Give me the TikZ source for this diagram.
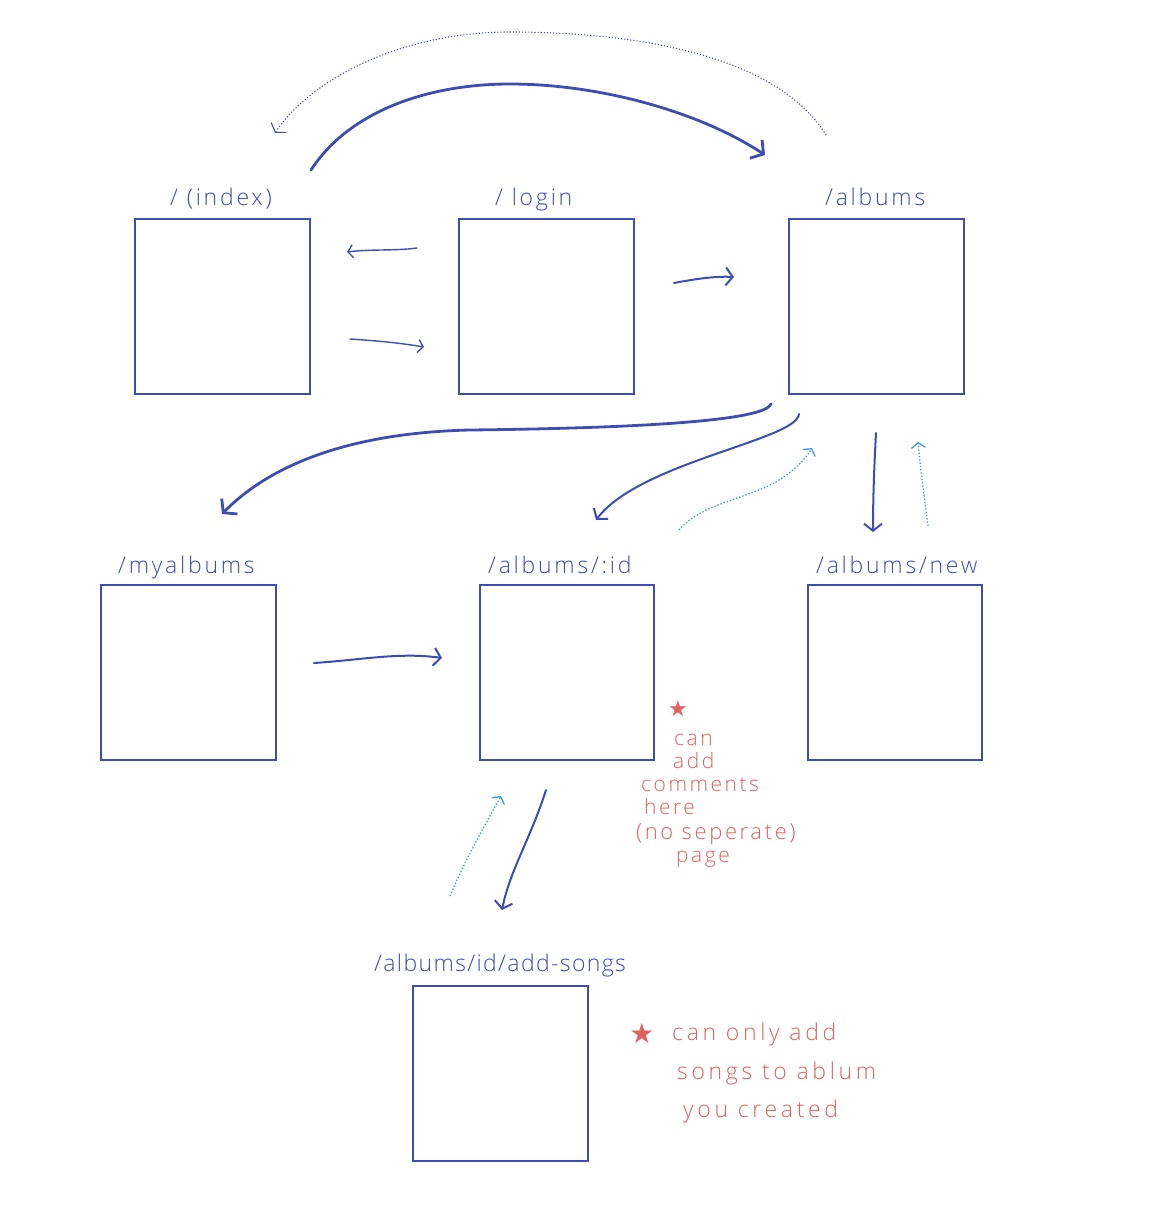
\documentclass[tikz,border=0pt]{standalone}
\usepackage{fontspec}
\setmainfont{Open Sans}
\newfontfamily\hand[LetterSpace=6]{Open Sans Light}
\newfontfamily\handwide[LetterSpace=12]{Open Sans Light}
\newfontfamily\handwider[LetterSpace=16]{Open Sans Light}
\usetikzlibrary{arrows.meta}
\definecolor{ink}{HTML}{3F4DB3}
\definecolor{lightink}{HTML}{3A9AD9}
\definecolor{redink}{HTML}{E06262}
\tikzset{
  page/.style={draw=ink, line width=1.5pt},
  lbl/.style={anchor=base west, text=ink, font=\handwide\fontsize{23}{23}\selectfont, inner sep=0pt},
  note/.style={text=redink, font=\handwide\fontsize{21}{23}\selectfont, inner sep=0pt, align=left},
  bignote/.style={text=redink, font=\handwider\fontsize{23}{23}\selectfont, inner sep=0pt, align=left},
  thick arrow/.style={draw=ink, line width=2.8pt, line cap=round, -{Straight Barb[length=9pt,width=22pt,line width=2.8pt]}},
  med arrow/.style={draw=ink, line width=2pt, line cap=round, -{Straight Barb[length=7pt,width=18pt,line width=2pt]}},
  thin arrow/.style={draw=ink, line width=1.4pt, line cap=round, -{Straight Barb[length=5pt,width=13pt,line width=1.4pt]}},
  dot arrow/.style={draw=ink, line width=1.1pt, dotted, -{Straight Barb[length=6pt,width=18pt,line width=1.1pt]}},
  ldot arrow/.style={draw=lightink, line width=1.3pt, dotted, -{Straight Barb[length=5pt,width=14pt,line width=1.3pt]}},
}
\begin{document}
\begin{tikzpicture}[x=1pt,y=-1pt]
\useasboundingbox[fill=white] (0,0) rectangle (1170,1210);

% pages
\draw[page] (135,219) rectangle (310,394);
\draw[page] (459,219) rectangle (634,394);
\draw[page] (789,219) rectangle (964,394);
\draw[page] (101,585) rectangle (276,760);
\draw[page] (480,585) rectangle (654,760);
\draw[page] (808,585) rectangle (982,760);
\draw[page] (413,986) rectangle (588,1161);

% labels
\node[lbl] (lindex) at (170,205) {/ (index)};
\node[lbl] (llogin) at (495,205) {/ login};
\node[lbl] (lalbums) at (825,205) {/albums};
\node[lbl] (lmy) at (118,573) {/myalbums};
\node[lbl] (lid) at (488,573) {/albums/:id};
\node[lbl] (lnew) at (816,573) {/albums/new};
\node[lbl, font=\hand\fontsize{23}{23}\selectfont] (ladd) at (374,971) {/albums/id/add-songs};

% connector end points
\coordinate (a1s) at (311,170);
\coordinate (a1e) at (765,155);
\coordinate (d1s) at (826,135);
\coordinate (d1e) at (275,133);
\coordinate (li1s) at (417,248);
\coordinate (li1e) at (347,252);
\coordinate (il1s) at (350,339);
\coordinate (il1e) at (424,347);
\coordinate (la1s) at (674,283);
\coordinate (la1e) at (734,277);
\coordinate (am1s) at (771,404);
\coordinate (am1e) at (222,514);
\coordinate (ai1s) at (799,414);
\coordinate (ai1e) at (596,520);
\coordinate (ia1s) at (679,530);
\coordinate (ia1e) at (812,448);
\coordinate (an1s) at (876,433);
\coordinate (an1e) at (873,532);
\coordinate (na1s) at (928,526);
\coordinate (na1e) at (918,442);
\coordinate (mi1s) at (314,663);
\coordinate (mi1e) at (442,658);
\coordinate (is1s) at (546,790);
\coordinate (is1e) at (502,910);
\coordinate (si1s) at (450,896);
\coordinate (si1e) at (501,796);

% connectors
\draw[thick arrow] (a1s) .. controls (350,110) and (430,84) .. (510,84)
   .. controls (600,84) and (700,112) .. (a1e);
\draw[dot arrow] (d1s) .. controls (780,60) and (650,32) .. (510,32)
   .. controls (400,32) and (310,80) .. (d1e);
\draw[thin arrow] (li1s) .. controls (395,251) and (370,249) .. (li1e);
\draw[thin arrow] (il1s) .. controls (380,341) and (400,343) .. (il1e);
\draw[med arrow] (la1s) .. controls (695,279) and (715,276) .. (la1e);
\draw[thick arrow] (am1s) .. controls (765,420) and (650,428) .. (470,430)
   .. controls (340,433) and (265,470) .. (am1e);
\draw[med arrow] (ai1s) .. controls (797,440) and (640,462) .. (ai1e);
\draw[ldot arrow] (ia1s) .. controls (700,505) and (740,500) .. (770,485)
   .. controls (790,475) and (805,460) .. (ia1e);
\draw[med arrow] (an1s) .. controls (874,470) and (873,500) .. (an1e);
\draw[ldot arrow] (na1s) .. controls (924,495) and (920,465) .. (na1e);
\draw[med arrow] (mi1s) .. controls (360,660) and (400,652) .. (mi1e);
\draw[med arrow] (is1s) .. controls (530,840) and (510,870) .. (is1e);
\draw[ldot arrow] (si1s) .. controls (465,860) and (485,825) .. (si1e);

% notes
\node[note, anchor=center] (star1) at (678,709) {\fontspec{DejaVu Sans}\fontsize{22}{22}\selectfont ★};
\node[note, anchor=base west] (n1a) at (674,745) {can};
\node[note, anchor=base west] (n1b) at (673,768) {add};
\node[note, anchor=base west] (n1c) at (641,791) {comments};
\node[note, anchor=base west] (n1d) at (644,814) {here};
\node[note, anchor=base west, font=\handwide\fontsize{22}{23}\selectfont] (n1e) at (636,839) {(no seperate)};
\node[note, anchor=base west] (n1f) at (676,862) {page};

\node[bignote, anchor=center] (star2) at (642,1033) {\fontspec{DejaVu Sans}\fontsize{28}{28}\selectfont ★};
\node[bignote, anchor=base west] (n2a) at (672,1040) {can only add};
\node[bignote, anchor=base west] (n2b) at (677,1079) {songs to ablum};
\node[bignote, anchor=base west] (n2c) at (683,1117) {you created};
\end{tikzpicture}
\end{document}
